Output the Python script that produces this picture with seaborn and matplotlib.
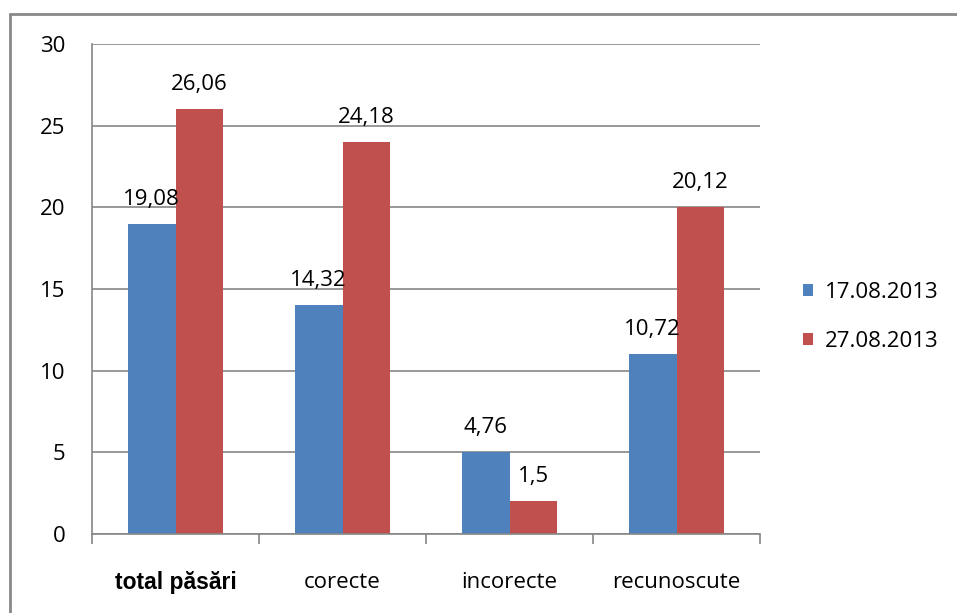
import matplotlib
matplotlib.use("Agg")
import matplotlib.pyplot as plt
from matplotlib.lines import Line2D
import seaborn as sns
import pandas as pd

categories = ["total păsări", "corecte", "incorecte", "recunoscute"]
series_names = ["17.08.2013", "27.08.2013"]
heights_s1 = [19, 14, 5, 11]
heights_s2 = [26, 24, 2, 20]
labels_s1 = ["19,08", "14,32", "4,76", "10,72"]
labels_s2 = ["26,06", "24,18", "1,5", "20,12"]
yticks = [0, 5, 10, 15, 20, 25, 30]
colors = ["#4F81BD", "#C0504D"]

df = pd.DataFrame({
    "cat": categories * 2,
    "val": heights_s1 + heights_s2,
    "ser": [series_names[0]] * 4 + [series_names[1]] * 4,
})

sns.set_style("white")
plt.rcParams["font.family"] = ["Open Sans", "DejaVu Sans"]
plt.rcParams["text.color"] = "black"
plt.rcParams["xtick.labelcolor"] = "black"
plt.rcParams["ytick.labelcolor"] = "black"
FS = 16

fig = plt.figure(figsize=(9.57, 6.13), dpi=100)
ax = fig.add_axes([92/957, 1-534/613, (760-92)/957, (534-44)/613])

sns.barplot(data=df, x="cat", y="val", hue="ser", order=categories,
            hue_order=series_names, palette=colors, width=0.57,
            saturation=1, ax=ax, legend=True, edgecolor="none", linewidth=0)

ax.set_ylim(0, 30)
ax.set_xlim(-0.5, 3.5)
ax.set_yticks(yticks)
ax.set_yticklabels([str(t) for t in yticks], fontsize=FS, color="black")
ax.yaxis.grid(True, color="#868686", linewidth=1.2)
ax.set_axisbelow(True)
ax.set_xlabel("")
ax.set_ylabel("")

for s in ["top", "right"]:
    ax.spines[s].set_visible(False)
for s in ["left", "bottom"]:
    ax.spines[s].set_color("#868686")
    ax.spines[s].set_linewidth(1.2)

ax.tick_params(axis="y", length=6, color="#868686", width=1.2, pad=13, direction="out")
ax.set_xticks([0, 1, 2, 3])
ax.set_xticklabels(categories, fontsize=FS, color="black")
ax.tick_params(axis="x", length=0, pad=27)
ax.set_xticks([-0.5, 0.5, 1.5, 2.5, 3.5], minor=True)
ax.tick_params(axis="x", which="minor", length=7, color="#868686", width=1.2, direction="out")
ax.tick_params(axis="x", bottom=True, which="minor")
for lbl in ax.get_xticklabels():
    if lbl.get_text() == "total păsări":
        lbl.set_fontfamily(["Liberation Sans", "DejaVu Sans"])
        lbl.set_fontweight("bold")
        lbl.set_fontsize(16.5)

for cont, labs in zip(ax.containers, [labels_s1, labels_s2]):
    ax.bar_label(cont, labels=labs, padding=10, fontsize=FS, color="black")

leg = ax.legend(loc="center left", bbox_to_anchor=(803/957, 1-317/613),
                bbox_transform=fig.transFigure, frameon=False, fontsize=FS,
                handlelength=0.45, handleheight=0.45, handletextpad=0.55,
                labelspacing=1.25, borderpad=0, borderaxespad=0)
for t in leg.get_texts():
    t.set_color("black")

fig.add_artist(Line2D([10/957, 10/957], [0, 1-14/613], transform=fig.transFigure,
                      color="#888888", linewidth=2))
fig.add_artist(Line2D([10/957, 1], [1-14/613, 1-14/613], transform=fig.transFigure,
                      color="#888888", linewidth=2))

fig.savefig("out.png", dpi=100)
